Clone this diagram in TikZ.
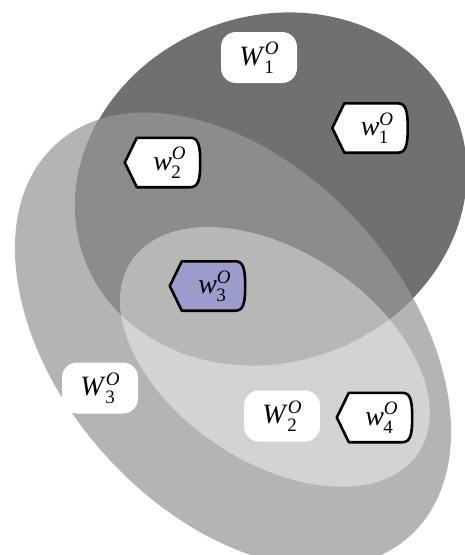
\documentclass[tikz,border=0pt]{standalone}
\usepackage{fontspec}
\setmainfont{Liberation Serif}
\usetikzlibrary{calc}
\pgfdeclarelayer{ell}
\pgfdeclarelayer{shp}
\pgfsetlayers{ell,shp,main}
\definecolor{cdark}{HTML}{707070}
\definecolor{cmid}{HTML}{8C8C8C}
\definecolor{cbig}{HTML}{B4B4B4}
\definecolor{cinner}{HTML}{D3D3D3}
\definecolor{cinnerdark}{HTML}{B7B7B7}
\definecolor{cviolet}{HTML}{9C9CCC}
\newcommand\lbl[3]{\textit{#1}{\fontsize{19}{19}\selectfont\rlap{\kern-0.5pt\raisebox{-8pt}{#3}}\raisebox{10.5pt}{\textit{#2}}}}
\tikzset{
  setbox/.style={fill=white, rounded corners=15pt, minimum width=76pt, minimum height=51pt, inner sep=0pt,
    text height=20pt, text depth=5pt, font=\fontsize{28}{30}\selectfont},
  elembox/.style={minimum width=75pt, minimum height=49pt, inner sep=0pt,
    text height=20pt, text depth=5pt, font=\fontsize{28}{30}\selectfont},
  elemline/.style={line width=2.6pt, line join=round, draw=black},
  darkell/.style={rotate around={21:(271,189)}},
  bigell/.style={rotate around={-48:(233,340)}},
  innerell/.style={rotate around={-33.8:(275,357)}},
}
\newcommand\darkpath{(271,189) ellipse [x radius=199pt, y radius=173pt]}
\newcommand\bigpath{(233,340) ellipse [x radius=264pt, y radius=172pt]}
\newcommand\innerpath{(275,357) ellipse [x radius=172.5pt, y radius=105pt]}
\newcommand\elemshape[2]{%
  \begin{pgfonlayer}{shp}
  \draw[elemline, fill=#2] (#1.west) -- ($(#1.north west)+(12,0)$) -- ($(#1.north east)+(-10,0)$)
    .. controls ($(#1.north east)+(-2,0)$) and ($(#1.north east)+(0,7)$) .. (#1.east)
    .. controls ($(#1.south east)+(0,-7)$) and ($(#1.south east)+(-2,0)$) .. ($(#1.south east)+(-10,0)$)
    -- ($(#1.south west)+(12,0)$) -- cycle;
  \end{pgfonlayer}}
\begin{document}
\begin{tikzpicture}[x=1pt, y=-1pt]
\useasboundingbox (0,0) rectangle (464,555);
\clip (0,0) rectangle (464,555);
\begin{pgfonlayer}{ell}
  \fill[cbig, bigell] \bigpath;
  \fill[cdark, darkell] \darkpath;
  \begin{scope}
    \clip[darkell] \darkpath;
    \fill[cmid, bigell] \bigpath;
  \end{scope}
  \fill[cinner, innerell] \innerpath;
  \begin{scope}
    \clip[darkell] \darkpath;
    \fill[cinnerdark, innerell] \innerpath;
  \end{scope}
\end{pgfonlayer}
\node[setbox] (S1) at (259,57.5) {\lbl{W}{O}{1}};
\node[setbox] (S3) at (100,388) {\lbl{W}{O}{3}};
\node[setbox] (S2) at (282,416) {\lbl{W}{O}{2}};
\node[elembox] (e1) at (370,128) {\hspace{14pt}\lbl{w}{O}{1}};
\node[elembox] (e2) at (162.5,162.5) {\hspace{14pt}\lbl{w}{O}{2}};
\node[elembox] (e3) at (207.5,286) {\hspace{14pt}\lbl{w}{O}{3}};
\node[elembox] (e4) at (374.5,417.5) {\hspace{14pt}\lbl{w}{O}{4}};
\elemshape{e1}{white}
\elemshape{e2}{white}
\elemshape{e3}{cviolet}
\elemshape{e4}{white}
\end{tikzpicture}
\end{document}
